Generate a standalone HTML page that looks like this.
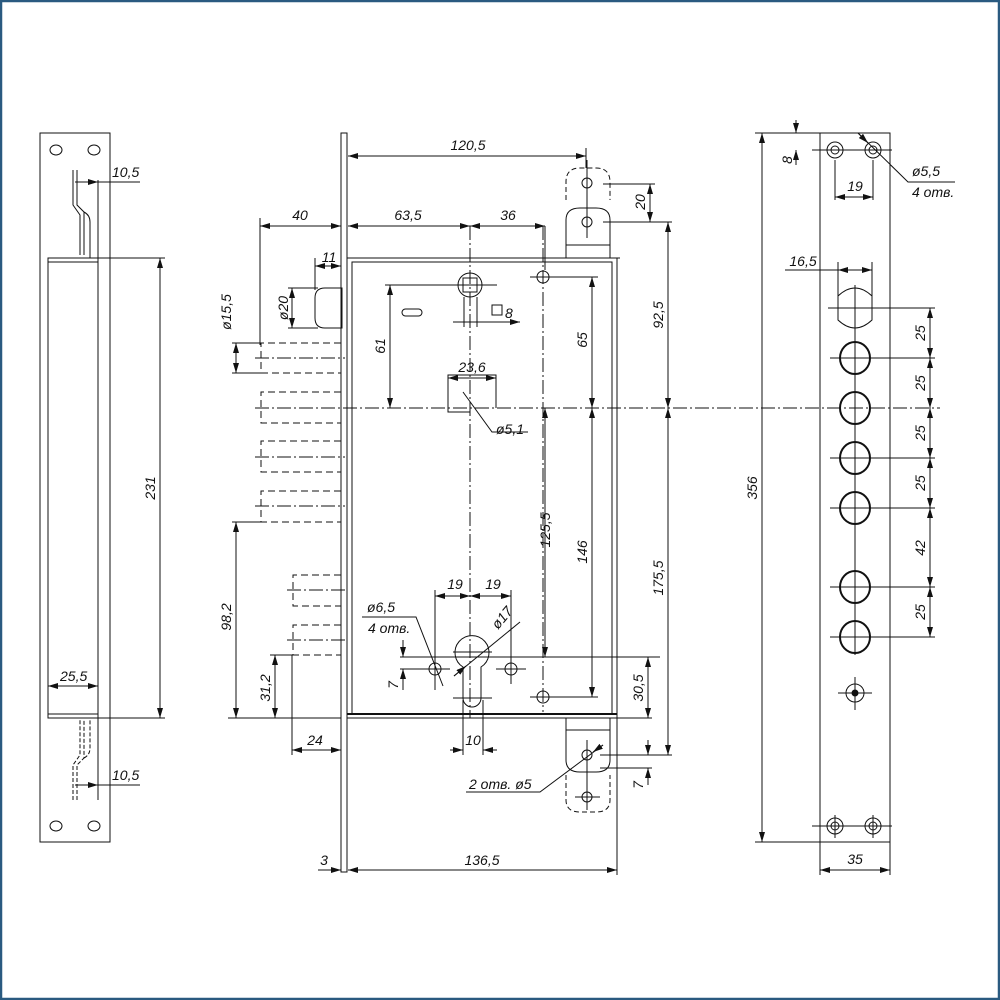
<!DOCTYPE html>
<html><head><meta charset="utf-8"><style>
html,body{margin:0;padding:0;background:#fff}
svg{display:block}
text{font-family:"Liberation Sans",sans-serif;font-style:italic;font-size:14px;fill:#111}
</style></head><body>
<svg width="1000" height="1000" viewBox="0 0 1000 1000" xmlns="http://www.w3.org/2000/svg">
<defs>
<marker id="a" viewBox="0 0 10 6" refX="10" refY="3" markerWidth="10" markerHeight="6" orient="auto-start-reverse" markerUnits="userSpaceOnUse"><path d="M0,0L10,3L0,6z" fill="#111"/></marker>
</defs>
<rect x="1" y="1" width="998" height="998" fill="none" stroke="#2a5a80" stroke-width="2.5"/>
<g fill="none" stroke="#111" stroke-width="1">
<!-- LEFT STRIKE -->
<rect x="40" y="133" width="70" height="709"/>
<ellipse cx="56" cy="150" rx="6" ry="5"/><ellipse cx="94" cy="150" rx="6" ry="5"/>
<ellipse cx="56" cy="826" rx="6" ry="5"/><ellipse cx="94" cy="826" rx="6" ry="5"/>
<line x1="98" y1="180" x2="98" y2="800"/>
<rect x="48" y="258" width="50" height="460"/>
<line x1="48" y1="262" x2="98" y2="262"/><line x1="48" y1="714" x2="98" y2="714"/>
<path d="M73,170 V205 L80,215 V255 M77,170 V205 L84,212 V255 M84,212 Q90,215 90,222 V258" />
<path d="M73,800 V765 L80,755 V720 M77,800 V765 L84,758 V720 M84,758 Q90,755 90,748 V718" stroke-dasharray="4,2"/>
<line x1="98" y1="258" x2="165" y2="258"/><line x1="98" y1="718" x2="165" y2="718"/>
<line x1="160" y1="258" x2="160" y2="718" marker-start="url(#a)" marker-end="url(#a)"/>
<line x1="75" y1="182" x2="98" y2="182" marker-end="url(#a)"/><line x1="98" y1="182" x2="140" y2="182"/>
<line x1="75" y1="785" x2="98" y2="785" marker-end="url(#a)"/><line x1="98" y1="785" x2="140" y2="785"/>
<line x1="48" y1="686" x2="98" y2="686" marker-start="url(#a)" marker-end="url(#a)"/>

<!-- MIDDLE LOCK -->
<rect x="341" y="133" width="6" height="739"/>
<rect x="347" y="258" width="270" height="460"/>
<rect x="352" y="262" width="260" height="452"/>
<line x1="347" y1="714" x2="617" y2="714" stroke-width="2"/>
<!-- latch -->
<path d="M325,288 H342 V328 H325 Q315,328 315,318 V298 Q315,288 325,288Z"/>
<!-- bolts -->
<g stroke-dasharray="7,4">
<path d="M341,343 H261 V373 H341"/><path d="M341,392 H261 V423 H341"/>
<path d="M341,441 H261 V472 H341"/><path d="M341,491 H261 V522 H341"/>
<path d="M341,575 H293 V606 H341"/><path d="M341,625 H293 V655 H341"/>
</g>
<g stroke-dasharray="14,3,2,3">
<line x1="255" y1="358" x2="345" y2="358"/><line x1="255" y1="457" x2="345" y2="457"/>
<line x1="255" y1="506" x2="345" y2="506"/><line x1="287" y1="590" x2="345" y2="590"/>
<line x1="287" y1="640" x2="345" y2="640"/>
<line x1="255" y1="408" x2="940" y2="408"/>
<line x1="470" y1="226" x2="470" y2="718"/>
<line x1="543" y1="226" x2="543" y2="712"/>
</g>
<!-- top tab -->
<path d="M566,200 V182 Q566,168 580,168 H596 Q610,168 610,182 V200" stroke-dasharray="5,3"/>
<path d="M566,258 V220 Q566,208 580,208 H596 Q610,208 610,220 V258 M566,245 H610 M563,258 H620"/>
<circle cx="587" cy="183" r="5"/><circle cx="587" cy="222" r="5"/>
<line x1="587" y1="160" x2="587" y2="238"/>
<!-- bottom tab -->
<path d="M566,718 V760 Q566,772 580,772 H596 Q610,772 610,760 V718 M566,730 H610"/>
<path d="M566,775 V800 Q566,812 580,812 H596 Q610,812 610,800 V775" stroke-dasharray="5,3"/>
<circle cx="587" cy="755" r="5"/><circle cx="587" cy="797" r="5"/>
<line x1="587" y1="740" x2="587" y2="810"/><line x1="575" y1="797" x2="600" y2="797"/>
<!-- spindle -->
<circle cx="470" cy="285" r="12"/><rect x="463" y="278" width="14" height="14"/>
<line x1="450" y1="285" x2="497" y2="285"/>
<line x1="464" y1="297" x2="464" y2="327"/><line x1="477" y1="297" x2="477" y2="327"/>
<line x1="453" y1="322" x2="520" y2="322" marker-end="url(#a)"/>
<rect x="492" y="305" width="10" height="10"/>
<rect x="402" y="309" width="20" height="7" rx="3.5"/>
<circle cx="543" cy="277" r="6"/><line x1="530" y1="277" x2="598" y2="277"/>
<line x1="385" y1="285" x2="465" y2="285"/>
<line x1="390" y1="285" x2="390" y2="408" marker-start="url(#a)" marker-end="url(#a)"/>
<line x1="592" y1="277" x2="592" y2="408" marker-start="url(#a)" marker-end="url(#a)"/>
<path d="M448,408 V375 H496 V408 M448,408 V412 H470"/>
<line x1="448" y1="378" x2="496" y2="378" marker-start="url(#a)" marker-end="url(#a)"/>
<path d="M463,392 L492,432 H528"/>
<!-- cylinder -->
<path d="M463,667 A17,17 0 1 1 481,667 V698 A9,9 0 0 1 463,698 Z"/>
<line x1="453" y1="652" x2="492" y2="652"/>
<line x1="454" y1="676" x2="520" y2="622"/>
<line x1="454" y1="676" x2="466" y2="666" marker-end="url(#a)"/>
<line x1="453" y1="698" x2="492" y2="698"/>
<circle cx="435" cy="669" r="6"/><circle cx="511" cy="669" r="6"/><circle cx="543" cy="697" r="6"/>
<line x1="420" y1="669" x2="450" y2="669"/><line x1="496" y1="669" x2="526" y2="669"/>
<line x1="511" y1="656" x2="511" y2="684"/><line x1="530" y1="697" x2="598" y2="697"/>
<line x1="435" y1="590" x2="435" y2="690"/><line x1="511" y1="590" x2="511" y2="684"/>
<line x1="435" y1="596" x2="470" y2="596" marker-start="url(#a)" marker-end="url(#a)"/>
<line x1="470" y1="596" x2="511" y2="596" marker-start="url(#a)" marker-end="url(#a)"/>
<path d="M362,617 H416 L443,686"/>
<line x1="400" y1="657" x2="660" y2="657"/><line x1="400" y1="669" x2="420" y2="669"/>
<line x1="403" y1="640" x2="403" y2="657" marker-end="url(#a)"/>
<line x1="403" y1="690" x2="403" y2="669" marker-end="url(#a)"/>
<line x1="463" y1="700" x2="463" y2="755"/><line x1="483" y1="700" x2="483" y2="755"/>
<line x1="450" y1="750" x2="463" y2="750" marker-end="url(#a)"/>
<line x1="497" y1="750" x2="483" y2="750" marker-end="url(#a)"/>
<!-- dims middle -->
<line x1="348" y1="156" x2="586" y2="156" marker-start="url(#a)" marker-end="url(#a)"/>
<line x1="586" y1="148" x2="586" y2="168"/>
<line x1="348" y1="226" x2="470" y2="226" marker-start="url(#a)" marker-end="url(#a)"/>
<line x1="470" y1="226" x2="545" y2="226" marker-start="url(#a)" marker-end="url(#a)"/>
<line x1="545" y1="226" x2="545" y2="270"/>
<line x1="260" y1="226" x2="341" y2="226" marker-start="url(#a)" marker-end="url(#a)"/>
<line x1="260" y1="218" x2="260" y2="345"/>
<line x1="315" y1="266" x2="341" y2="266" marker-start="url(#a)" marker-end="url(#a)"/>
<line x1="315" y1="258" x2="315" y2="290"/>
<line x1="288" y1="288" x2="318" y2="288"/><line x1="288" y1="328" x2="318" y2="328"/>
<line x1="292" y1="288" x2="292" y2="328" marker-start="url(#a)" marker-end="url(#a)"/>
<line x1="232" y1="343" x2="262" y2="343"/><line x1="232" y1="373" x2="262" y2="373"/>
<line x1="236" y1="343" x2="236" y2="373" marker-start="url(#a)" marker-end="url(#a)"/>
<line x1="232" y1="522" x2="262" y2="522"/>
<line x1="236" y1="522" x2="236" y2="718" marker-start="url(#a)" marker-end="url(#a)"/>
<line x1="228" y1="718" x2="341" y2="718"/>
<line x1="270" y1="655" x2="293" y2="655"/>
<line x1="275" y1="655" x2="275" y2="718" marker-start="url(#a)" marker-end="url(#a)"/>
<line x1="292" y1="655" x2="292" y2="755"/>
<line x1="292" y1="750" x2="341" y2="750" marker-start="url(#a)" marker-end="url(#a)"/>
<line x1="603" y1="184" x2="655" y2="184"/><line x1="603" y1="222" x2="672" y2="222"/>
<line x1="650" y1="184" x2="650" y2="222" marker-start="url(#a)" marker-end="url(#a)"/>
<line x1="668" y1="222" x2="668" y2="408" marker-start="url(#a)" marker-end="url(#a)"/>
<line x1="668" y1="408" x2="668" y2="755" marker-start="url(#a)" marker-end="url(#a)"/>
<line x1="600" y1="755" x2="672" y2="755"/><line x1="600" y1="768" x2="652" y2="768"/>
<line x1="648" y1="740" x2="648" y2="755" marker-end="url(#a)"/>
<line x1="648" y1="785" x2="648" y2="768" marker-end="url(#a)"/>
<line x1="545" y1="408" x2="545" y2="657" marker-start="url(#a)" marker-end="url(#a)"/>
<line x1="592" y1="408" x2="592" y2="697" marker-start="url(#a)" marker-end="url(#a)"/>
<line x1="617" y1="718" x2="652" y2="718"/>
<line x1="648" y1="657" x2="648" y2="718" marker-start="url(#a)" marker-end="url(#a)"/>
<path d="M466,792 H540 L603,745"/>
<line x1="603" y1="745" x2="593" y2="752" marker-end="url(#a)"/>
<line x1="617" y1="718" x2="617" y2="875"/>
<line x1="348" y1="870" x2="617" y2="870" marker-start="url(#a)" marker-end="url(#a)"/>
<line x1="318" y1="870" x2="341" y2="870" marker-end="url(#a)"/>

<!-- RIGHT FACEPLATE -->
<rect x="820" y="133" width="70" height="709"/>
<g>
<circle cx="835" cy="150" r="8"/><circle cx="835" cy="150" r="4"/>
<circle cx="873" cy="150" r="8"/><circle cx="873" cy="150" r="4"/>
<circle cx="835" cy="826" r="8"/><circle cx="835" cy="826" r="4"/>
<circle cx="873" cy="826" r="8"/><circle cx="873" cy="826" r="4"/>
</g>
<line x1="812" y1="150" x2="892" y2="150"/><line x1="812" y1="826" x2="892" y2="826"/>
<line x1="835" y1="815" x2="835" y2="838"/><line x1="873" y1="815" x2="873" y2="838"/>
<line x1="835" y1="160" x2="835" y2="200"/><line x1="873" y1="160" x2="873" y2="200"/>
<line x1="835" y1="197" x2="873" y2="197" marker-start="url(#a)" marker-end="url(#a)"/>
<path d="M858,133 L908,182 H955"/>
<line x1="858" y1="133" x2="868" y2="143" marker-end="url(#a)"/>
<line x1="755" y1="133" x2="820" y2="133"/><line x1="755" y1="842" x2="820" y2="842"/>
<line x1="762" y1="133" x2="762" y2="842" marker-start="url(#a)" marker-end="url(#a)"/>
<line x1="796" y1="120" x2="796" y2="133" marker-end="url(#a)"/>
<line x1="796" y1="165" x2="796" y2="150" marker-end="url(#a)"/>
<path d="M838,308 V296 Q855,280 872,296 V320 Q855,336 838,320 Z"/>
<line x1="838" y1="262" x2="838" y2="296"/><line x1="872" y1="262" x2="872" y2="296"/>
<line x1="785" y1="270" x2="872" y2="270"/>
<line x1="838" y1="270" x2="872" y2="270" marker-start="url(#a)" marker-end="url(#a)"/>
<line x1="828" y1="308" x2="935" y2="308"/>
<g stroke-width="2">
<ellipse cx="855" cy="358" rx="15" ry="16"/><ellipse cx="855" cy="408" rx="15" ry="16"/>
<ellipse cx="855" cy="458" rx="15" ry="16"/><ellipse cx="855" cy="508" rx="15" ry="16"/>
<ellipse cx="855" cy="587" rx="15" ry="16"/><ellipse cx="855" cy="637" rx="15" ry="16"/>
</g>
<line x1="830" y1="358" x2="935" y2="358"/><line x1="830" y1="458" x2="935" y2="458"/>
<line x1="830" y1="508" x2="935" y2="508"/><line x1="830" y1="587" x2="935" y2="587"/>
<line x1="830" y1="637" x2="935" y2="637"/>
<line x1="855" y1="285" x2="855" y2="655"/>
<line x1="930" y1="308" x2="930" y2="358" marker-start="url(#a)" marker-end="url(#a)"/>
<line x1="930" y1="358" x2="930" y2="408" marker-start="url(#a)" marker-end="url(#a)"/>
<line x1="930" y1="408" x2="930" y2="458" marker-start="url(#a)" marker-end="url(#a)"/>
<line x1="930" y1="458" x2="930" y2="508" marker-start="url(#a)" marker-end="url(#a)"/>
<line x1="930" y1="508" x2="930" y2="587" marker-start="url(#a)" marker-end="url(#a)"/>
<line x1="930" y1="587" x2="930" y2="637" marker-start="url(#a)" marker-end="url(#a)"/>
<circle cx="855" cy="693" r="9"/><circle cx="855" cy="693" r="3" fill="#111"/>
<line x1="838" y1="693" x2="872" y2="693"/><line x1="855" y1="677" x2="855" y2="710"/>
<line x1="820" y1="842" x2="820" y2="875"/><line x1="890" y1="842" x2="890" y2="875"/>
<line x1="820" y1="870" x2="890" y2="870" marker-start="url(#a)" marker-end="url(#a)"/>
</g>
<!-- TEXT -->
<text x="112" y="177">10,5</text>
<text x="112" y="780">10,5</text>
<text x="60" y="681">25,5</text>
<text transform="translate(155,488) rotate(-90)" text-anchor="middle">231</text>
<text x="468" y="150" text-anchor="middle">120,5</text>
<text x="300" y="220" text-anchor="middle">40</text>
<text x="408" y="220" text-anchor="middle">63,5</text>
<text x="508" y="220" text-anchor="middle">36</text>
<text x="329" y="262" text-anchor="middle">11</text>
<text transform="translate(288,308) rotate(-90)" text-anchor="middle">ø20</text>
<text transform="translate(231,312) rotate(-90)" text-anchor="middle">ø15,5</text>
<text transform="translate(385,346) rotate(-90)" text-anchor="middle">61</text>
<text x="505" y="318">8</text>
<text x="472" y="372" text-anchor="middle">23,6</text>
<text x="496" y="434">ø5,1</text>
<text transform="translate(587,340) rotate(-90)" text-anchor="middle">65</text>
<text transform="translate(663,315) rotate(-90)" text-anchor="middle">92,5</text>
<text transform="translate(645,202) rotate(-90)" text-anchor="middle">20</text>
<text transform="translate(550,530) rotate(-90)" text-anchor="middle">125,5</text>
<text transform="translate(587,552) rotate(-90)" text-anchor="middle">146</text>
<text transform="translate(663,578) rotate(-90)" text-anchor="middle">175,5</text>
<text transform="translate(643,688) rotate(-90)" text-anchor="middle">30,5</text>
<text transform="translate(643,785) rotate(-90)" text-anchor="middle">7</text>
<text transform="translate(231,617) rotate(-90)" text-anchor="middle">98,2</text>
<text transform="translate(270,688) rotate(-90)" text-anchor="middle">31,2</text>
<text transform="translate(398,685) rotate(-90)" text-anchor="middle">7</text>
<text x="455" y="589" text-anchor="middle">19</text>
<text x="493" y="589" text-anchor="middle">19</text>
<text transform="translate(498,630) rotate(-50)">ø17</text>
<text x="367" y="612">ø6,5</text>
<text x="368" y="633">4 отв.</text>
<text x="315" y="745" text-anchor="middle">24</text>
<text x="473" y="745" text-anchor="middle">10</text>
<text x="469" y="789">2 отв. ø5</text>
<text x="324" y="865" text-anchor="middle">3</text>
<text x="482" y="865" text-anchor="middle">136,5</text>
<text transform="translate(792,160) rotate(-90)" text-anchor="middle">8</text>
<text x="855" y="191" text-anchor="middle">19</text>
<text x="912" y="176">ø5,5</text>
<text x="912" y="197">4 отв.</text>
<text x="803" y="266" text-anchor="middle">16,5</text>
<text transform="translate(757,488) rotate(-90)" text-anchor="middle">356</text>
<text transform="translate(925,333) rotate(-90)" text-anchor="middle">25</text>
<text transform="translate(925,383) rotate(-90)" text-anchor="middle">25</text>
<text transform="translate(925,433) rotate(-90)" text-anchor="middle">25</text>
<text transform="translate(925,483) rotate(-90)" text-anchor="middle">25</text>
<text transform="translate(925,548) rotate(-90)" text-anchor="middle">42</text>
<text transform="translate(925,612) rotate(-90)" text-anchor="middle">25</text>
<text x="855" y="864" text-anchor="middle">35</text>
</svg>
</body></html>
